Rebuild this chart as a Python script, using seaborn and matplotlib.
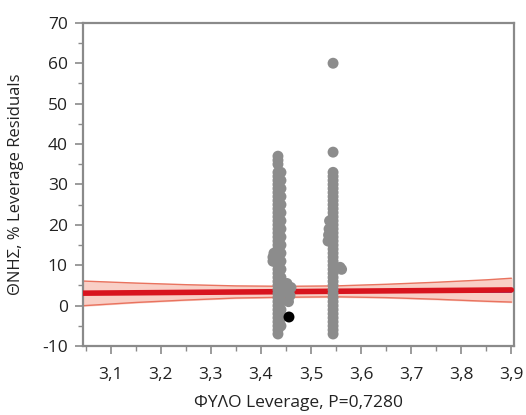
import numpy as np
import pandas as pd
import matplotlib
matplotlib.use("Agg")
import matplotlib.pyplot as plt
import seaborn as sns
from matplotlib.ticker import MultipleLocator

# Leverage residual points
col1_y = [-7, -6, -5, -4, -3, -2, -1, 0, 1, 2, 3, 4, 5, 6, 7, 8, 9, 10, 11, 12,
          13, 14, 15, 16, 17, 18, 19, 20, 21, 22, 23, 24, 25, 26, 27, 28, 29,
          30, 31, 32, 33, 35, 36, 37]
col1b_y = [-5, -3, -1, 1, 3, 5, 7, 9, 11, 13, 15, 17, 19, 21, 23, 25, 27, 29, 31, 33]
col1_side_x = [3.455, 3.458, 3.455, 3.46, 3.452, 3.424, 3.424, 3.426]
col1_side_y = [1.0, 2.5, 4.0, 4.5, 5.5, 11.0, 12.0, 13.0]
col2_y = [-7, -6, -5, -4, -3, -2, -1, 0, 1, 2, 3, 4, 5, 6, 7, 8, 9, 10, 11, 12,
          13, 14, 15, 16, 17, 18, 19, 20, 21, 22, 23, 24, 25, 26, 27, 28, 29,
          30, 31, 32, 33, 38, 60]
col2_side_x = [3.561, 3.558, 3.534, 3.535, 3.536, 3.537]
col2_side_y = [9.0, 9.5, 16.0, 17.5, 19.0, 21.0]
hi_x = [3.456]
hi_y = [-2.8]

# fitted line, confidence band and mean
fit_x = [3.045, 3.9]
fit_y = [3.1, 3.9]
band_x = [3.045, 3.15, 3.25, 3.35, 3.45, 3.55, 3.65, 3.75, 3.85, 3.9]
band_lo = [0.0, 0.8, 1.4, 1.9, 2.1, 2.2, 2.0, 1.6, 1.1, 0.9]
band_hi = [6.1, 5.6, 5.2, 4.9, 4.8, 4.9, 5.3, 5.8, 6.4, 6.8]
mean_y = 3.5

xticks = [3.1, 3.2, 3.3, 3.4, 3.5, 3.6, 3.7, 3.8, 3.9]
xticklabels = ["3,1", "3,2", "3,3", "3,4", "3,5", "3,6", "3,7", "3,8", "3,9"]
yticks = [-10, 0, 10, 20, 30, 40, 50, 60, 70]

pts = pd.DataFrame({
    "x": [3.434] * len(col1_y) + [3.440] * len(col1b_y) + col1_side_x
         + [3.544] * len(col2_y) + col2_side_x,
    "y": col1_y + col1b_y + col1_side_y + col2_y + col2_side_y,
})

sns.set_style("white")
plt.rcParams["font.family"] = ["Open Sans", "DejaVu Sans"]
plt.rcParams["axes.unicode_minus"] = False

fig = plt.figure(figsize=(5.26, 4.15), dpi=100)
ax = fig.add_axes([0.158, 0.166, 0.819, 0.779])

ax.fill_between(band_x, band_lo, band_hi, color="#f9cfc6", zorder=1)
ax.plot(band_x, band_lo, color="#e9735f", lw=1.0, zorder=2)
ax.plot(band_x, band_hi, color="#e9735f", lw=1.0, zorder=2)
ax.plot([3.045, 3.9], [mean_y, mean_y], color="#5a55c8", lw=1.4, zorder=2)
ax.plot(fit_x, fit_y, color="#d8141e", lw=4.0, zorder=3)

sns.scatterplot(data=pts, x="x", y="y", color="#8c8c8c", s=62,
                edgecolor="none", ax=ax, zorder=4)
ax.scatter(hi_x, hi_y, color="black", s=62, edgecolor="none", zorder=5)

ax.set_xlim(3.045, 3.905)
ax.set_ylim(-10, 70)
ax.set_xticks(xticks)
ax.set_xticklabels(xticklabels)
ax.set_yticks(yticks)
ax.xaxis.set_minor_locator(MultipleLocator(0.05))
ax.yaxis.set_minor_locator(MultipleLocator(5))

for s in ax.spines.values():
    s.set_color("#8a8a8a")
    s.set_linewidth(1.6)
ax.tick_params(which="major", direction="out", length=6, width=1.2,
               color="#8a8a8a", labelsize=12.5, labelcolor="#222222", pad=5,
               bottom=True, left=True)
ax.tick_params(axis="x", which="major", pad=9)
ax.tick_params(which="minor", direction="out", length=3.5, width=1.0,
               color="#8a8a8a", bottom=True, left=True)

ax.set_xlabel("ΦΥΛΟ Leverage, P=0,7280", fontsize=12.5, color="#222222", labelpad=9)
ax.set_ylabel("ΘΝΗΣ, % Leverage Residuals", fontsize=12, color="#222222", labelpad=13)

fig.savefig("out.png", dpi=100)
